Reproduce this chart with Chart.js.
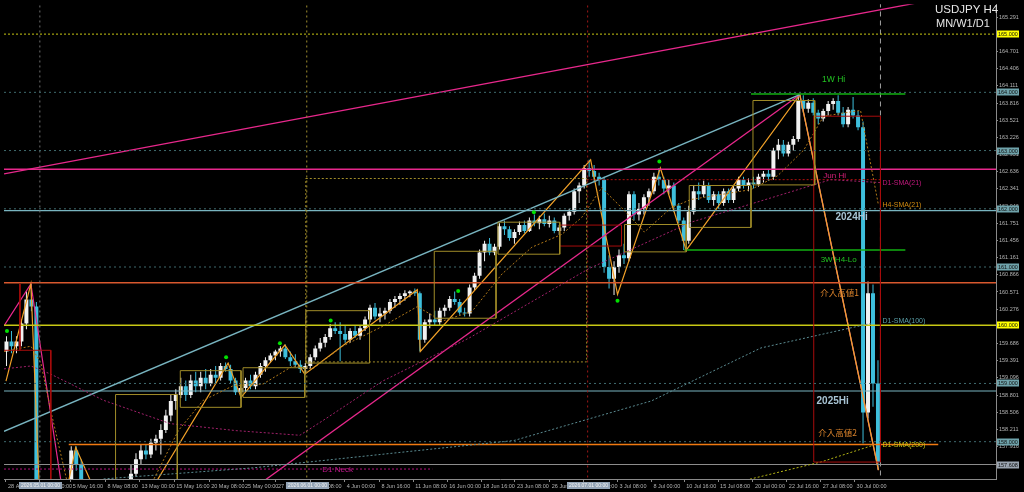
<!DOCTYPE html>
<html><head><meta charset="utf-8">
<script src="https://cdn.jsdelivr.net/npm/chart.js@4.4.1/dist/chart.umd.min.js"></script>
<style>html,body{margin:0;padding:0;background:#000;overflow:hidden}canvas{display:block}</style>
</head><body>
<canvas id="c" width="1024" height="492" style="width:1024px;height:492px"></canvas>
<script>
// ---------- DATA ----------
const candleOpen = [
159.55,159.72,159.64,159.72,160.03,160.44,160.32,157.05,156.80,156.95,
157.00,156.90,157.05,157.20,157.85,157.60,157.10,156.90,156.70,156.60,
156.75,156.85,156.95,157.05,157.10,157.20,157.45,157.70,157.85,157.78,
157.98,158.05,158.20,158.45,158.70,158.80,158.95,158.80,159.05,158.95,
159.10,159.00,159.15,159.10,159.30,159.25,159.05,158.85,158.92,159.05,
158.95,159.15,159.30,159.40,159.48,159.55,159.60,159.45,159.38,159.32,
159.25,159.30,159.45,159.60,159.70,159.80,159.95,159.90,159.85,159.75,
159.90,159.82,159.95,160.10,160.30,160.15,160.20,160.25,160.40,160.45,
160.50,160.55,160.58,160.55,159.75,160.05,160.10,160.05,160.25,160.30,
160.45,160.40,160.22,160.20,160.65,160.85,161.25,161.40,161.25,161.35,
161.70,161.65,161.50,161.60,161.72,161.62,161.80,161.75,161.82,161.74,
161.80,161.62,161.68,161.88,161.95,162.30,162.40,162.70,162.65,162.55,
162.50,161.00,160.80,161.00,161.20,161.15,162.25,161.90,162.00,162.20,
162.30,162.55,162.50,162.35,162.40,162.05,161.80,161.45,161.95,162.30,
162.25,162.40,162.15,162.25,162.10,162.30,162.15,162.35,162.50,162.40,
162.45,162.42,162.55,162.60,162.55,163.00,163.10,162.95,163.10,163.20,
163.85,163.72,163.82,163.65,163.55,163.68,163.80,163.85,163.65,163.45,
163.70,163.60,163.40,158.50,160.55,159.00];
const candleHigh = [
159.81,159.90,159.81,160.10,160.58,160.71,160.40,157.25,157.10,157.20,
157.25,157.15,157.28,157.92,157.92,157.70,157.25,157.10,156.90,156.85,
157.00,157.05,157.15,157.25,157.28,157.60,157.80,157.95,157.95,158.05,
158.12,158.30,158.55,158.80,158.90,159.10,159.05,159.15,159.20,159.20,
159.25,159.25,159.30,159.35,159.36,159.32,159.10,158.98,159.10,159.15,
159.20,159.35,159.45,159.52,159.58,159.64,159.67,159.55,159.50,159.40,
159.35,159.50,159.65,159.78,159.85,160.02,160.05,160.05,160.00,159.95,
160.00,160.00,160.15,160.35,160.38,160.30,160.30,160.45,160.50,160.55,
160.60,160.60,160.63,160.58,160.10,160.20,160.25,160.30,160.35,160.50,
160.58,160.45,160.30,160.70,160.90,161.30,161.45,161.50,161.40,161.75,
161.80,161.70,161.65,161.78,161.80,161.85,161.90,161.88,161.92,161.88,
161.85,161.72,161.92,162.00,162.35,162.45,162.75,162.84,162.75,162.62,
162.55,161.20,161.10,161.30,161.40,162.30,162.30,162.10,162.25,162.35,
162.62,162.70,162.55,162.50,162.45,162.10,161.85,162.05,162.40,162.45,
162.48,162.45,162.30,162.30,162.35,162.35,162.40,162.55,162.55,162.52,
162.55,162.60,162.65,162.68,163.05,163.20,163.18,163.15,163.25,163.97,
163.95,163.88,163.90,163.70,163.72,163.85,163.90,163.95,163.75,163.75,
163.92,163.68,163.50,160.75,160.70,159.40];
const candleLow = [
159.30,159.52,159.52,159.64,159.93,160.24,156.90,156.60,156.50,156.70,
156.75,156.70,156.90,157.10,157.50,157.00,156.80,156.60,156.45,156.40,
156.60,156.70,156.80,156.90,157.00,157.10,157.40,157.60,157.70,157.72,
157.85,157.78,158.15,158.35,158.55,158.75,158.70,158.75,158.85,158.85,
158.90,158.95,159.00,159.05,159.20,159.00,158.80,158.74,158.85,158.90,
158.90,159.10,159.20,159.35,159.40,159.46,159.42,159.30,159.28,159.18,
159.16,159.25,159.40,159.55,159.62,159.75,159.85,159.38,159.70,159.70,
159.78,159.75,159.90,160.05,160.10,160.05,160.10,160.20,160.30,160.35,
160.42,160.48,160.50,159.55,159.70,159.95,160.00,160.00,160.15,160.25,
160.35,160.18,160.15,160.15,160.60,160.80,161.10,161.20,161.20,161.30,
161.55,161.45,161.40,161.55,161.58,161.60,161.70,161.65,161.70,161.68,
161.58,161.55,161.62,161.80,161.90,162.10,162.35,162.55,162.45,162.40,
160.90,160.63,160.52,160.90,161.05,161.10,161.80,161.80,161.90,162.05,
162.25,162.40,162.25,162.25,161.95,161.75,161.29,161.40,161.90,162.15,
162.20,162.10,162.05,162.00,162.05,162.10,162.10,162.30,162.35,162.30,
162.35,162.38,162.45,162.48,162.50,162.85,162.90,162.90,163.00,163.15,
163.65,163.65,163.60,163.45,163.50,163.60,163.70,163.60,163.40,163.40,
163.55,163.35,157.97,158.40,158.60,157.52];
const candleClose = [
159.72,159.64,159.72,160.03,160.44,160.32,157.05,156.80,156.95,157.00,
156.90,157.05,157.20,157.85,157.60,157.10,156.90,156.70,156.60,156.75,
156.85,156.95,157.05,157.10,157.20,157.45,157.70,157.85,157.78,157.98,
158.05,158.20,158.45,158.70,158.80,158.95,158.80,159.05,158.95,159.10,
159.00,159.15,159.10,159.30,159.25,159.05,158.85,158.92,159.05,158.95,
159.15,159.30,159.40,159.48,159.55,159.60,159.45,159.38,159.32,159.25,
159.30,159.45,159.60,159.70,159.80,159.95,159.90,159.85,159.75,159.90,
159.82,159.95,160.10,160.30,160.15,160.20,160.25,160.40,160.45,160.50,
160.55,160.58,160.55,159.75,160.05,160.10,160.05,160.25,160.30,160.45,
160.40,160.22,160.20,160.65,160.85,161.25,161.40,161.25,161.35,161.70,
161.65,161.50,161.60,161.72,161.62,161.80,161.75,161.82,161.74,161.80,
161.62,161.68,161.88,161.95,162.30,162.40,162.70,162.65,162.55,162.50,
161.00,160.80,161.00,161.20,161.15,162.25,161.90,162.00,162.20,162.30,
162.55,162.50,162.35,162.40,162.05,161.80,161.45,161.95,162.30,162.25,
162.40,162.15,162.25,162.10,162.30,162.15,162.35,162.50,162.40,162.45,
162.42,162.55,162.60,162.55,163.00,163.10,162.95,163.10,163.20,163.85,
163.72,163.82,163.65,163.55,163.68,163.80,163.85,163.65,163.45,163.70,
163.60,163.40,158.50,160.55,159.00,157.65];

const yTicks = [165.291,164.996,164.701,164.406,164.111,163.816,163.521,163.226,162.931,162.636,162.341,162.046,161.751,161.456,161.161,160.866,160.571,160.276,159.981,159.686,159.391,159.096,158.801,158.506,158.211,157.916];
const xTickSlots = [0.4,7.2,13.4,20.4,27.2,34.2,41.2,48.0,54.6,61.6,68.4,75.4,82.2,89.0,95.8,102.6,109.6,116.4,123.2,130.0,136.6,143.4,150.4,157.2,164.0,170.8];
const xTickLabels = ["28 Apr 2026","1 May 00:00","5 May 16:00","8 May 08:00","13 May 00:00","15 May 16:00","20 May 08:00","25 May 00:00","27 May 16:00","1 Jun 08:00","4 Jun 00:00","8 Jun 16:00","11 Jun 08:00","16 Jun 00:00","18 Jun 16:00","23 Jun 08:00","26 Jun 00:00","30 Jun 16:00","3 Jul 08:00","8 Jul 00:00","10 Jul 16:00","15 Jul 08:00","20 Jul 00:00","22 Jul 16:00","27 Jul 08:00","30 Jul 00:00"];
const separatorSlots = [7.2, 60.8, 117.2];
const separatorLabels = ["2026.05.01 00:00","2026.06.01 00:00","2026.07.01 00:00"];

const roundLevels = [164, 163, 162, 161, 159, 158];
const tagPrices = [165.000,164.000,163.000,162.000,161.000,160.000,159.000,158.000,157.608];
const level1WHi = 163.97, levelJunHi = 162.68, level2024Hi = 161.97, level3WLo = 161.29;
const levelInt1 = 160.73, level160 = 160.00, level2025Hi = 158.87, levelInt2 = 157.95;
const levelBid = 157.608, levelNeck = 157.53, level165 = 165.00, levelRedDot = 162.50;

const pinkLong = [[0,162.60],[199.2,165.79]];
const tealTrend = [[0,158.18],[159.8,163.96]];
const pinkTrend = [[46.9,157.0],[159.8,163.96]];
const zigzagOrange = [[0.4,159.04],[5.4,160.71],[8,155.30],[14.4,157.90],[23,156.24],[45,159.35],[47.6,158.76],[56.4,159.66],[60.4,159.16],[83,160.61],[83.6,159.55],[117.8,162.84],[123.2,160.53],[131.8,162.70],[137,161.29],[159.8,163.96],[175.6,157.51]];
const zigzagPinkA = [[0,159.99],[5.4,160.71],[12.4,156.78]];
const zigzagPinkB = [[159.8,163.96],[175.6,157.51]];
const smaH4_21 = [[0,159.55],[5.4,159.64],[7.4,159.35],[9.4,158.53],[12.6,157.34],[20,156.6],[28,156.9],[30,157.34],[35,158.19],[40,158.71],[46,158.96],[52,158.99],[58,159.30],[62,159.25],[68,159.64],[76,159.98],[83,160.32],[88,160.07],[94,160.24],[100,160.88],[106,161.34],[112,161.56],[116,161.85],[120,162.36],[124,162.02],[128.6,161.60],[134,162.02],[138,162.16],[150,162.33],[155.4,162.57],[160.6,163.01],[164.6,163.59],[172,163.69],[175.6,162.06]];
const smaD1_21 = [[0,159.25],[5.4,159.30],[9.4,159.16],[20,158.71],[33.4,158.31],[46.6,158.19],[59.4,158.11],[64,158.36],[76,159.04],[93.4,159.78],[117.4,160.97],[138,161.77],[166,162.50],[176,162.45]];
const smaD1_100 = [[20,157.36],[50,157.55],[80,157.82],[102.4,158.02],[130,158.70],[152,159.61],[174,160.03]];
const smaD1_200 = [[149,157.34],[164,157.65],[174.6,157.94]];
const fractalDots = [[0.6,159.90],[44.6,159.45],[55.4,159.69],[65.6,160.08],[91.2,160.59],[106.4,161.94],[123.2,160.42],[131.6,162.81]];
// range boxes [slotStart, priceTop, slotEnd, priceBottom]
const oliveBoxes = [[22.4,158.81,34.8,157.0],[35.4,159.22,47.6,158.59],[48,159.27,60.4,158.76],[60.6,160.25,73.4,159.35],[86.4,161.27,98.8,160.12],[99.2,161.77,111.6,161.22],[124.6,161.73,137,161.26],[137.6,162.40,150,161.68],[150.4,163.86,162.8,162.41]];
const monthBox = [60.6,162.52,117,159.37];
const redBoxes = [[111.6,161.72,124,161.36],[162.6,163.59,176,157.65]];
const leftRedA = [[0,159.57],[9.4,159.57],[9.4,157.0]];
const leftRedB = [[3.2,160.71],[3.2,159.57]];
const lastBarSlot = 176;

// ---------- CONFIG ----------
const X_MAX = 199.2, Y_MIN = 157.359, Y_MAX = 165.512;
const BULL = '#f2f2f2', BEAR = '#3ebfdc';
const TEAL = '#78b4c0', PINK = '#e8288c', ORANGE = '#f0a028', INT1 = '#d8582e', INT2 = '#f07a12';
const YEL = '#c8c814', GREEN = '#12b012', OLIVE = '#a08c28', DRED = '#a80c0c', DOT = '#3f6a6e';

const colors = candleClose.map((c, i) => c >= candleOpen[i] ? BULL : BEAR);
const wickData = candleHigh.map((h, i) => ({x: i + 0.5, y: [candleLow[i], h]}));
const bodyData = candleOpen.map((o, i) => ({x: i + 0.5, y: [Math.min(o, candleClose[i]), Math.max(o, candleClose[i])]}));

function ln(points, color, width, dash) {
  return {type: 'line', data: points.map(p => ({x: p[0], y: p[1]})), borderColor: color, borderWidth: width,
    borderDash: dash || [], pointRadius: 0, pointHoverRadius: 0, fill: false, tension: 0, order: 1};
}
function hline(p, x0, x1, color, width, dash) { return ln([[x0, p], [x1, p]], color, width, dash); }
function vline(s, color, width, dash) { return ln([[s, 150], [s, 170]], color, width, dash); }
function rect(b, color, width, dash) { return ln([[b[0], b[1]], [b[2], b[1]], [b[2], b[3]], [b[0], b[3]], [b[0], b[1]]], color, width, dash); }

const datasets = [];
roundLevels.forEach(p => datasets.push(hline(p, 0, X_MAX, DOT, 1, [2, 3])));
datasets.push(hline(level165, 0, X_MAX, YEL, 1, [2, 2]));
datasets.push(vline(separatorSlots[0], '#6e6e6e', 1, [2, 3]));
datasets.push(vline(separatorSlots[1], '#a09030', 1, [2, 3]));
datasets.push(vline(separatorSlots[2], '#a01818', 1, [2, 3]));
oliveBoxes.forEach(b => datasets.push(rect(b, OLIVE, 1)));
datasets.push(rect(monthBox, OLIVE, 1, [2, 2]));
redBoxes.forEach(b => datasets.push(rect(b, DRED, 1)));
datasets.push(ln(leftRedA, DRED, 1));
datasets.push(ln(leftRedB, DRED, 1));
datasets.push(ln(smaD1_21, '#a0206a', 1, [2, 2]));
datasets.push(ln(smaH4_21, '#b07818', 1, [2, 2]));
datasets.push(ln(smaD1_100, '#5a8a90', 1, [2, 2]));
datasets.push(ln(smaD1_200, '#b4b414', 1, [2, 2]));
datasets.push(hline(levelJunHi, 0, X_MAX, PINK, 1.5));
datasets.push(hline(levelRedDot, 117, 176, '#b01010', 1, [2, 2]));
datasets.push(hline(level2024Hi, 0, X_MAX, TEAL, 1.2));
datasets.push(hline(levelInt1, 0, X_MAX, INT1, 1.3));
datasets.push(hline(level160, 0, X_MAX, YEL, 1.5));
datasets.push(hline(level2025Hi, 0, X_MAX, TEAL, 1.2));
datasets.push(hline(levelInt2, 13, 187.6, INT2, 1.5));
datasets.push(hline(levelBid, 0, X_MAX, '#8c8c8c', 1));
datasets.push(hline(levelNeck, 0, 86, '#b0107a', 1, [2, 2]));
datasets.push(hline(level1WHi, 150, 181, GREEN, 1.5));
datasets.push(hline(level3WLo, 136.6, 181, GREEN, 1.5));
datasets.push(ln(pinkLong, PINK, 1.3));
datasets.push(ln(tealTrend, TEAL, 1.5));
datasets.push(ln(pinkTrend, PINK, 1.3));
datasets.push(ln(zigzagOrange, ORANGE, 1.2));
datasets.push(ln(zigzagPinkA, PINK, 1.2));
datasets.push(ln(zigzagPinkB, '#f06898', 1.3));
datasets.push(vline(lastBarSlot, '#a0a0a0', 1, [5, 4]));
datasets.push({type: 'line', data: fractalDots.map(p => ({x: p[0], y: p[1]})), showLine: false, pointRadius: 2,
  pointBackgroundColor: '#00e000', pointBorderWidth: 0, order: 0});
datasets.push({type: 'bar', data: wickData, backgroundColor: colors, grouped: false, barPercentage: 0.2, categoryPercentage: 1, borderWidth: 0, order: 20});
datasets.push({type: 'bar', data: bodyData, backgroundColor: colors, grouped: false, barPercentage: 0.8, categoryPercentage: 1, borderWidth: 0, minBarLength: 1, order: 19});

const textLabels = [
  ['1W Hi', 166.6, 164.22, '#22c322', '8.5px "Liberation Sans"', 'center'],
  ['Jun Hi', 166.8, 162.57, '#d8207a', '8px "Liberation Sans"', 'center'],
  ['D1-SMA(21)', 176.4, 162.45, '#c0187c', '7px "Liberation Sans"', 'left'],
  ['H4-SMA(21)', 176.4, 162.06, '#d08a10', '7px "Liberation Sans"', 'left'],
  ['2024Hi', 170.2, 161.85, '#a8c4d4', 'bold 10px "Liberation Sans"', 'center'],
  ['3W H4-Lo', 167.6, 161.12, '#22c322', '8px "Liberation Sans"', 'center'],
  ['介入高値1', 167.8, 160.56, '#d9822b', '8.5px "Noto Sans CJK JP"', 'center'],
  ['D1-SMA(100)', 176.4, 160.07, '#5aa0a8', '7px "Liberation Sans"', 'left'],
  ['2025Hi', 166.4, 158.70, '#a8c4d4', 'bold 10px "Liberation Sans"', 'center'],
  ['介入高値2', 167.4, 158.16, '#d9822b', '8.5px "Noto Sans CJK JP"', 'center'],
  ['D1-SMA(200)', 176.4, 157.94, '#c8c814', '7px "Liberation Sans"', 'left'],
  ['D1 Neck', 67, 157.51, '#c0188c', '8px "Liberation Sans"', 'center']
];

const overlay = {
  id: 'overlay',
  beforeDraw(chart) {
    const c = chart.ctx; c.save(); c.fillStyle = '#000'; c.fillRect(0, 0, chart.width, chart.height); c.restore();
  },
  afterDraw(chart) {
    const c = chart.ctx, a = chart.chartArea, xs = chart.scales.x, ys = chart.scales.y;
    c.save();
    c.textBaseline = 'middle';
    textLabels.forEach(t => {
      c.font = t[4]; c.fillStyle = t[3]; c.textAlign = t[5];
      c.fillText(t[0], xs.getPixelForValue(t[1]), ys.getPixelForValue(t[2]));
    });
    c.fillStyle = '#e6e6e6'; c.textAlign = 'left';
    c.font = '11.5px "Liberation Sans"'; c.fillText('USDJPY H4', a.right - 61, 10);
    c.font = '11px "Liberation Sans"'; c.fillText('MN/W1/D1', a.right - 60, 24);
    c.font = '5.5px "Liberation Sans"';
    tagPrices.forEach((p, i) => {
      const py = Math.round(ys.getPixelForValue(p));
      const fill = (i === 0 || i === 5) ? '#ffff00' : (i === tagPrices.length - 1 ? '#9aa4b0' : '#6fa3ab');
      c.fillStyle = fill; c.fillRect(a.right + 1, py - 3.5, 22, 7);
      c.fillStyle = '#101010'; c.textAlign = 'left';
      c.fillText(p.toFixed(3), a.right + 2, py + 0.5);
    });
    c.font = '5px "Liberation Sans"';
    separatorSlots.forEach((s, i) => {
      const px = Math.round(xs.getPixelForValue(s));
      c.fillStyle = '#94a4b6'; c.fillRect(px - 21, a.bottom + 3, 43, 7);
      c.fillStyle = '#f4f4f4'; c.textAlign = 'center';
      c.fillText(separatorLabels[i], px + 0.5, a.bottom + 6.5);
    });
    c.restore();
  }
};

new Chart(document.getElementById('c'), {
  type: 'bar',
  data: {datasets},
  plugins: [overlay],
  options: {
    responsive: false, maintainAspectRatio: false, animation: false, devicePixelRatio: 1,
    events: [], layout: {padding: 0},
    plugins: {legend: {display: false}, tooltip: {enabled: false}},
    scales: {
      x: {type: 'linear', min: 0, max: X_MAX, offset: false,
        afterFit(s) { s.height = 13; },
        afterBuildTicks(s) { s.ticks = xTickSlots.map(v => ({value: v})); },
        ticks: {color: '#b4b4b4', font: {family: 'Liberation Sans', size: 5.5}, padding: 1, autoSkip: false,
          maxRotation: 0, minRotation: 0, align: 'start', labelOffset: 2, callback: (v, i) => xTickLabels[i]},
        grid: {display: true, offset: false, drawOnChartArea: false, drawTicks: true, tickLength: 3, color: '#8a8a8a'},
        border: {display: true, color: '#8a8a8a'}},
      y: {type: 'linear', position: 'right', min: Y_MIN, max: Y_MAX, beginAtZero: false,
        afterFit(s) { s.width = 28; },
        afterBuildTicks(s) { s.ticks = yTicks.map(v => ({value: v})); },
        ticks: {color: '#b4b4b4', font: {family: 'Liberation Sans', size: 5.5}, padding: 1, autoSkip: false,
          callback: v => Number(v).toFixed(3)},
        grid: {display: true, drawOnChartArea: false, drawTicks: true, tickLength: 2, color: '#8a8a8a'},
        border: {display: true, color: '#8a8a8a'}}
    }
  }
});
</script></body></html>
